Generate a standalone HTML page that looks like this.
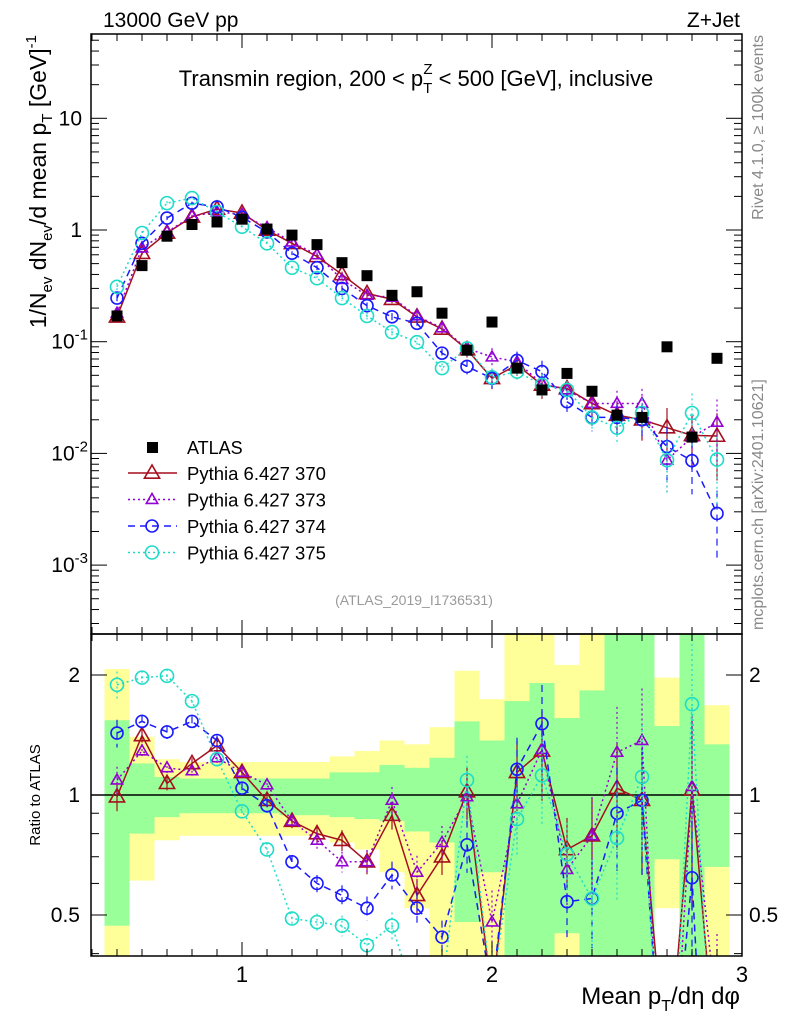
<!DOCTYPE html>
<html><head><meta charset="utf-8"><style>
html,body{margin:0;padding:0;background:#fff;width:786px;height:1024px;overflow:hidden;}
svg{display:block;font-family:"Liberation Sans",Arial,sans-serif;}
</style></head><body>
<svg id="c" width="786" height="1024" viewBox="0 0 786 1024" xmlns="http://www.w3.org/2000/svg">
<defs>
<clipPath id="mainClip"><rect x="91" y="34" width="651" height="600"/></clipPath>
<clipPath id="ratioClip"><rect x="91" y="634" width="651" height="322"/></clipPath>
</defs>
<g id="bands" clip-path="url(#ratioClip)"></g>
<g id="ratioMarks" clip-path="url(#ratioClip)"></g>
<g id="mainMarks" clip-path="url(#mainClip)"></g>
<g id="axes"></g>
<text x="103" y="27" font-size="21">13000 GeV pp</text>
<text x="740" y="27" font-size="21" text-anchor="end">Z+Jet</text>
<text x="416" y="86" font-size="22" text-anchor="middle">Transmin region, 200 &lt; p<tspan font-size="15" dy="7">T</tspan><tspan font-size="15" dx="-9" dy="-19">Z</tspan><tspan dy="12"> &lt; 500 [GeV], inclusive</tspan></text>
<text transform="translate(46,35) rotate(-90)" font-size="23" text-anchor="end">1/N<tspan font-size="15" dy="6">ev</tspan><tspan dy="-6"> dN</tspan><tspan font-size="15" dy="6">ev</tspan><tspan dy="-6">/d mean p</tspan><tspan font-size="15" dy="6">T</tspan><tspan dy="-6"> [GeV]</tspan><tspan font-size="15" dy="-10">-1</tspan></text>
<text transform="translate(40,795) rotate(-90)" font-size="15" text-anchor="middle">Ratio to ATLAS</text>
<text transform="translate(763,35) rotate(-90)" font-size="16" fill="#888" text-anchor="end">Rivet 4.1.0, ≥ 100k events</text>
<text transform="translate(763,630) rotate(-90)" font-size="16" fill="#888">mcplots.cern.ch [arXiv:2401.10621]</text>
<text x="414" y="605" font-size="14" fill="#999" text-anchor="middle">(ATLAS_2019_I1736531)</text>
<text x="740" y="1004" font-size="24" text-anchor="end">Mean p<tspan font-size="16" dy="7">T</tspan><tspan dy="-7">/dη dφ</tspan></text>
<g id="legend"></g>
</svg>
<script>
const xCenters=[0.5,0.6,0.7,0.8,0.9,1.0,1.1,1.2,1.3,1.4,1.5,1.6,1.7,1.8,1.9,2.0,2.1,2.2,2.3,2.4,2.5,2.6,2.7,2.8,2.9];
const atlas=[0.17,0.48,0.88,1.12,1.18,1.25,1.02,0.9,0.74,0.51,0.39,0.26,0.28,0.18,0.084,0.15,0.058,0.037,0.052,0.036,0.022,0.021,0.09,0.014,0.071];
const main370=[0.167,0.62,0.94,1.31,1.54,1.42,1.0,0.76,0.58,0.40,0.27,0.24,0.167,0.13,0.085,0.047,0.062,0.041,0.038,0.028,0.022,0.020,0.017,0.0145,0.0143];
const main373=[0.18,0.69,0.96,1.33,1.45,1.38,1.05,0.78,0.60,0.36,0.26,0.25,0.17,0.133,0.087,0.073,0.066,0.042,0.037,0.028,0.028,0.028,0.0087,0.014,0.019];
const main374=[0.246,0.76,1.28,1.74,1.61,1.30,0.96,0.62,0.46,0.30,0.21,0.167,0.146,0.079,0.060,0.047,0.068,0.054,0.029,0.021,0.021,0.020,0.0115,0.0086,0.0029];
const main375=[0.31,0.94,1.74,1.93,1.45,1.07,0.76,0.46,0.37,0.246,0.17,0.122,0.099,0.058,0.087,0.048,0.054,0.041,0.037,0.021,0.017,0.023,0.0087,0.023,0.0088];
const ratio370=[0.99,1.41,1.07,1.20,1.33,1.14,0.97,0.86,0.80,0.77,0.68,0.89,0.56,0.70,1.02,0.31,1.14,1.29,0.73,0.79,1.04,0.97,0.19,1.03,0.2];
const ratio373=[1.09,1.29,1.17,1.15,1.24,1.14,1.06,0.86,0.77,0.68,0.68,0.97,0.64,0.76,0.99,0.48,0.95,1.30,0.65,0.79,1.28,1.37,0.097,1.05,0.28];
const ratio374=[1.43,1.53,1.44,1.53,1.37,1.04,0.94,0.68,0.60,0.56,0.52,0.63,0.52,0.44,0.75,0.32,1.16,1.51,0.54,0.55,0.90,0.97,0.13,0.62,0.04];
const ratio375=[1.89,1.97,1.99,1.72,1.23,0.91,0.73,0.49,0.48,0.47,0.42,0.47,0.30,0.32,1.09,0.32,0.87,1.12,0.71,0.55,0.78,1.11,0.097,1.69,0.12];
const relErr=[0.08,0.04,0.04,0.03,0.03,0.03,0.04,0.04,0.05,0.06,0.07,0.08,0.1,0.1,0.15,0.2,0.2,0.25,0.2,0.25,0.3,0.35,0.5,0.5,0.6];
const greenHi=[1.54,1.20,1.11,1.10,1.10,1.10,1.10,1.10,1.10,1.14,1.14,1.19,1.17,1.24,1.53,1.37,1.72,1.91,1.56,1.83,3,3,1.49,3,1.34];
const greenLo=[0.47,0.80,0.88,0.90,0.90,0.90,0.90,0.89,0.89,0.88,0.87,0.86,0.81,0.76,0.48,0.64,0.3,0.3,0.45,0.3,0.3,0.3,0.69,0.3,0.66];
const yellowHi=[2.07,1.40,1.23,1.21,1.21,1.21,1.21,1.21,1.21,1.25,1.29,1.37,1.34,1.48,2.05,1.74,3,3,2.12,3,3,3,1.97,3,1.68];
const yellowLo=[0.3,0.61,0.77,0.79,0.79,0.79,0.79,0.79,0.79,0.76,0.73,0.64,0.52,0.3,0.3,0.3,0.3,0.3,0.3,0.3,0.3,0.3,0.52,0.3,0.3];
const mainTicks=[10,1,0.1,0.01,0.001];
const mainTickLabels=["10","1","10<sup>-1</sup>","10<sup>-2</sup>","10<sup>-3</sup>"];
const ratioTicks=[2,1,0.5];
const ratioTickLabels=["2","1","0.5"];
const xTicks=[1,2,3];
const xTickLabels=["1","2","3"];

const NS="http://www.w3.org/2000/svg";
const X=v=>242+(v-1)*250;
const YM=v=>230-111.7*Math.log10(v);
const YR=v=>795-398.6*Math.log10(v);
const binW=0.1;
function mk(tag,attrs,parent){const e=document.createElementNS(NS,tag);for(const k in attrs)e.setAttribute(k,attrs[k]);parent.appendChild(e);return e;}

const bands=document.getElementById('bands');
xCenters.forEach((c,i)=>{
  const x0=X(c-binW/2),w=X(c+binW/2)-x0;
  const y=mk('rect',{x:x0,y:YR(yellowHi[i]),width:w,height:YR(yellowLo[i])-YR(yellowHi[i]),fill:'#ffff99'},bands);
  
  
  const g=mk('rect',{x:x0,y:YR(greenHi[i]),width:w,height:YR(greenLo[i])-YR(greenHi[i]),fill:'#99ff99'},bands);
  
  
});
const one=mk('line',{x1:91,x2:742,y1:YR(1),y2:YR(1),stroke:'#000','stroke-width':1.5},document.getElementById('ratioMarks'));



const series=[
 {name:'370',main:main370,ratio:ratio370,color:'#a50f1e',dash:'',marker:'tri',ms:8},
 {name:'373',main:main373,ratio:ratio373,color:'#9400d3',dash:'2,3',marker:'tri',ms:6},
 {name:'374',main:main374,ratio:ratio374,color:'#1a1aff',dash:'7,5',marker:'circ',ms:6},
 {name:'375',main:main375,ratio:ratio375,color:'#1edcc8',dash:'2,3',marker:'circ',ms:6.5}
];
function marker(parent,s,x,y){
  let m;
  if(s.marker==='tri'){const r=s.ms;m=mk('polygon',{points:`${x},${y-r} ${x-r*0.95},${y+r*0.65} ${x+r*0.95},${y+r*0.65}`,fill:'none',stroke:s.color,'stroke-width':1.6},parent);}
  else m=mk('circle',{cx:x,cy:y,r:s.ms,fill:'none',stroke:s.color,'stroke-width':1.6},parent);
  return m;
}
function drawSeries(parent,vals,s,Y,errs){
  const g=mk('g',{},parent);
  
  
  const pts=xCenters.map((c,i)=>X(c)+','+Y(vals[i])).join(' ');
  const l=mk('polyline',{points:pts,fill:'none',stroke:s.color,'stroke-width':1.5,'stroke-dasharray':s.dash},g);
  
  
  xCenters.forEach((c,i)=>{
    const v=vals[i],e=v*errs[i];
    const lo=Math.max(v-e,1e-6);
    const eb=mk('line',{x1:X(c),x2:X(c),y1:Y(v+e),y2:Y(lo),stroke:s.color,'stroke-width':1.2,'stroke-dasharray':s.dash},g);
    
    
    const m=marker(g,s,X(c),Y(v));
    
    
  });
}
const rm=document.getElementById('ratioMarks'),mm=document.getElementById('mainMarks');
series.forEach(s=>{drawSeries(rm,s.ratio,s,YR,relErr);drawSeries(mm,s.main,s,YM,relErr);});
xCenters.forEach((c,i)=>{
  const r=mk('rect',{x:X(c)-5.5,y:YM(atlas[i])-5.5,width:11,height:11,fill:'#000'},mm);
  
  
});

const ax=document.getElementById('axes');
function line(x1,y1,x2,y2,w){return mk('line',{x1,y1,x2,y2,stroke:'#000','stroke-width':w||1},ax);}
mk('rect',{x:91,y:34,width:651,height:600,fill:'none',stroke:'#000','stroke-width':1.5},ax);
mk('rect',{x:91,y:634,width:651,height:322,fill:'none',stroke:'#000','stroke-width':1.5},ax);
for(let v=0.4;v<=3.001;v+=0.1){
  const x=X(v);if(x<92||x>741)continue;
  const major=Math.abs(v-Math.round(v))<1e-6;const L=major?14:7;
  line(x,34,x,34+L);line(x,634,x,634-L);line(x,634,x,634+L);line(x,956,x,956-L);
}
xTicks.forEach((v,i)=>{const t=mk('text',{x:X(v),y:982,'font-size':22,'text-anchor':'middle'},ax);t.textContent=xTickLabels[i];
 
 });
for(let d=-4;d<=1;d++){for(let k=1;k<=9;k++){const v=k*Math.pow(10,d);const y=YM(v);if(y<35||y>633)continue;const L=k===1?16:8;line(91,y,91+L,y);line(742,y,742-L,y);}}
mainTicks.forEach((v,i)=>{const t=mk('text',{x:82,y:YM(v)+7,'font-size':21,'text-anchor':'end'},ax);
 const lab=mainTickLabels[i];
 if(lab.indexOf('<sup>')>=0){const p=lab.split('<sup>');t.textContent=p[0];const ts=mk('tspan',{'font-size':15,dy:-9},t);ts.textContent=p[1].replace('</sup>','');t.setAttribute('x',88);} else t.textContent=lab;
 
 });
[0.4,0.5,0.6,0.7,0.8,0.9,1,2].forEach(v=>{const y=YR(v);if(y>955)return;const L=(v===1||v===2||v===0.5)?16:8;line(91,y,91+L,y);line(742,y,742-L,y);});
ratioTicks.forEach((v,i)=>{
 const t=mk('text',{x:80,y:YR(v)+7,'font-size':21,'text-anchor':'end'},ax);t.textContent=ratioTickLabels[i];
 
 
 const t2=mk('text',{x:749,y:YR(v)+7,'font-size':21},ax);t2.textContent=ratioTickLabels[i];
 
 
});

const lg=document.getElementById('legend');
const lr=mk('rect',{x:147,y:442,width:11,height:11,fill:'#000'},lg);


const lt=mk('text',{x:187,y:454,'font-size':18},lg);lt.textContent='ATLAS';


series.forEach((s,i)=>{
  const y=473+i*26.5;
  const l=mk('line',{x1:128,x2:177,y1:y,y2:y,stroke:s.color,'stroke-width':1.5,'stroke-dasharray':s.dash},lg);
  
  
  const m=marker(lg,s,152,y);
  
  
  const t=mk('text',{x:187,y:y+7,'font-size':18.5},lg);t.textContent='Pythia 6.427 '+s.name;
  
  
});
</script>
</body></html>
